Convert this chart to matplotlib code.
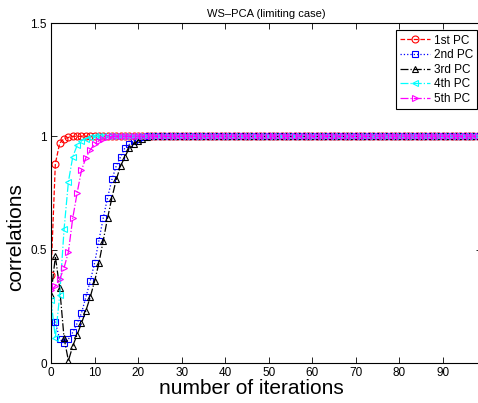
import numpy as np
from matplotlib import pyplot as plt

plt.rcParams['font.family'] = ['Liberation Sans', 'DejaVu Sans']

n_iter = 100
iters = np.arange(n_iter)

# correlations for the first iterations; afterwards every PC sits at 1
pc1_head = [0.39, 0.88, 0.97, 0.99, 0.995]
pc2_head = [0.18, 0.18, 0.105, 0.09, 0.105, 0.135, 0.175, 0.22, 0.29, 0.36,
            0.44, 0.54, 0.64, 0.73, 0.81, 0.87, 0.91, 0.95, 0.965, 0.98,
            0.99, 0.995]
pc3_head = [0.30, 0.47, 0.33, 0.11, 0.01, 0.075, 0.125, 0.175, 0.23, 0.29,
            0.36, 0.44, 0.54, 0.64, 0.73, 0.81, 0.87, 0.91, 0.95, 0.965,
            0.98, 0.99, 0.995]
pc4_head = [0.28, 0.11, 0.30, 0.59, 0.80, 0.91, 0.96, 0.98, 0.99, 0.995]
pc5_head = [0.32, 0.34, 0.37, 0.42, 0.49, 0.64, 0.75, 0.85, 0.905, 0.94,
            0.965, 0.98, 0.99, 0.995]

labels = ['1st PC', '2nd PC', '3rd PC', '4th PC', '5th PC']
heads = [pc1_head, pc2_head, pc3_head, pc4_head, pc5_head]
colors = ['red', 'blue', 'black', 'cyan', 'magenta']
markers = ['o', 's', '^', '<', '>']
styles = ['--', ':', '-.', '-.', '-.']


def full_series(head):
    return list(head) + [1.0] * (n_iter - len(head))


fig = plt.figure(figsize=(4.78, 4.03), dpi=100)
# right spine falls just past the figure edge
ax = fig.add_axes([51 / 478, 40 / 403, 431 / 478, 340 / 403])

for head, c, m, ls, lab in zip(heads, colors, markers, styles, labels):
    ax.plot(iters, full_series(head), linestyle=ls, color=c, marker=m,
            markersize=5, markerfacecolor='none', markeredgewidth=0.8,
            linewidth=0.9, label=lab)

ax.set_xlim(0, 99)
ax.set_ylim(0, 1.5)
ax.set_xticks(range(0, 100, 10))
ax.set_yticks([0, 0.5, 1, 1.5])
ax.set_yticklabels(['0', '0.5', '1', '1.5'])
ax.tick_params(direction='in', top=True, right=True, length=4, width=0.6,
               labelsize=8.5, pad=3)
for sp in ax.spines.values():
    sp.set_linewidth(0.8)

ax.set_title('WS–PCA (limiting case)', fontsize=8, pad=4)
ax.set_xlabel('number of iterations', fontsize=15)
ax.set_ylabel('correlations', fontsize=15)
ax.xaxis.set_label_coords(0.466, -0.048)
ax.yaxis.set_label_coords(-0.06, 0.37)

leg = ax.legend(loc='upper right', bbox_to_anchor=(0.989, 0.978),
                borderaxespad=0, fontsize=8.5, handlelength=2.6,
                handletextpad=0.3, labelspacing=0.22, borderpad=0.35,
                fancybox=False, framealpha=1, edgecolor='black')
leg.get_frame().set_linewidth(0.8)

plt.savefig('out.png', dpi=100)
